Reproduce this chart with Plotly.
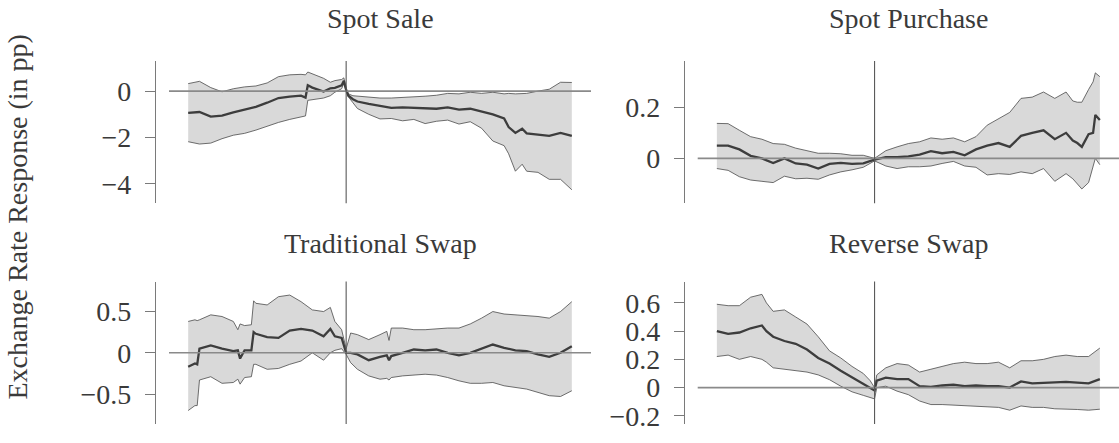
import plotly.graph_objects as go

# ---------------- data ----------------
titles = ["Spot Sale", "Spot Purchase", "Traditional Swap", "Reverse Swap"]
y_label = "Exchange Rate Response (in pp)"

spot_sale_x = [-70, -65, -60, -55, -50, -45, -40, -35, -30, -25, -20, -18, -17, -15, -10, -7, -5, -2, -1,
               0, 1, 3, 5, 10, 15, 20, 25, 30, 35, 40, 45, 50, 55, 60, 65, 70, 72, 75, 78, 80, 85, 90, 95, 100]
spot_sale_mean = [-0.94, -0.9, -1.1, -1.06, -0.92, -0.8, -0.68, -0.5, -0.3, -0.24, -0.2, -0.28, 0.25, 0.15, -0.02, 0.12, 0.14, 0.25, 0.44,
                  0.05, -0.2, -0.35, -0.45, -0.55, -0.65, -0.72, -0.7, -0.73, -0.73, -0.76, -0.7, -0.8, -0.76, -0.87, -1.0, -1.18, -1.55, -1.8, -1.62, -1.82, -1.88, -1.93, -1.8, -1.93]
spot_sale_lo = [-2.18, -2.28, -2.24, -2.05, -1.9, -1.82, -1.68, -1.5, -1.35, -1.22, -1.1, -1.07, -0.4, -0.38, -0.3, -0.2, -0.05, 0.1, 0.33,
                0.0, -0.25, -0.5, -0.75, -1.0, -1.2, -1.18, -1.28, -1.22, -1.4, -1.3, -1.25, -1.42, -1.32, -1.6, -2.15, -2.35, -2.7, -3.45, -3.15, -3.45, -3.5, -3.8, -3.8, -4.25]
spot_sale_hi = [0.32, 0.42, 0.15, -0.03, 0.1, 0.18, 0.22, 0.35, 0.62, 0.7, 0.72, 0.7, 0.82, 0.75, 0.55, 0.38, 0.45, 0.5, 0.57,
                0.1, -0.12, -0.2, -0.22, -0.25, -0.3, -0.3, -0.28, -0.25, -0.22, -0.18, -0.1, -0.12, -0.05, -0.1, -0.05, -0.12, -0.1, -0.12, -0.1, -0.1, 0.0, 0.08, 0.38, 0.37]

spot_purchase_x = [-70, -65, -60, -55, -50, -45, -40, -35, -30, -25, -20, -15, -10, -5, 0, 5, 10, 15, 20, 25,
                   30, 35, 40, 45, 50, 55, 60, 65, 70, 75, 80, 85, 88, 90, 92, 95, 97, 98, 100]
spot_purchase_mean = [0.05, 0.05, 0.035, 0.01, 0.0, -0.018, 0.0, -0.02, -0.025, -0.04, -0.022, -0.018, -0.022, -0.02, -0.005, 0.005, 0.005, 0.008, 0.015, 0.028,
                      0.02, 0.025, 0.012, 0.035, 0.05, 0.06, 0.045, 0.088, 0.1, 0.11, 0.075, 0.1, 0.07, 0.06, 0.045, 0.095, 0.1, 0.17, 0.15]
spot_purchase_lo = [-0.04, -0.047, -0.072, -0.085, -0.09, -0.095, -0.07, -0.08, -0.078, -0.082, -0.065, -0.053, -0.045, -0.035, -0.01, -0.03, -0.04, -0.033, -0.033, -0.03,
                    -0.02, -0.012, -0.03, -0.035, -0.065, -0.06, -0.063, -0.053, -0.06, -0.04, -0.09, -0.06, -0.08, -0.1, -0.12, -0.095, -0.03, 0.0, -0.025]
spot_purchase_hi = [0.137, 0.136, 0.11, 0.085, 0.075, 0.058, 0.055, 0.04, 0.03, 0.02, 0.02, 0.018, 0.012, 0.012, 0.0, 0.03, 0.045, 0.058, 0.065, 0.08,
                    0.075, 0.08, 0.065, 0.085, 0.13, 0.155, 0.18, 0.235, 0.24, 0.26, 0.235, 0.26, 0.225, 0.22, 0.22, 0.27, 0.3, 0.335, 0.32]

trad_swap_x = [-70, -67, -66, -65, -60, -55, -50, -48, -47, -45, -42, -41, -40, -35, -30, -25, -20, -15, -10, -7, -5, -2,
               0, 2, 5, 10, 15, 18, 19, 20, 25, 30, 35, 40, 45, 50, 55, 60, 65, 70, 75, 80, 85, 90, 95, 100]
trad_swap_mean = [-0.17, -0.13, -0.14, 0.05, 0.09, 0.05, 0.02, 0.03, -0.07, 0.03, 0.03, 0.25, 0.23, 0.19, 0.18, 0.27, 0.29, 0.27, 0.2, 0.29, 0.2, 0.18,
                  0.0, 0.0, -0.02, -0.09, -0.05, -0.03, -0.09, -0.04, 0.0, 0.04, 0.03, 0.04, 0.0, -0.03, 0.0, 0.05, 0.1, 0.06, 0.03, 0.02, -0.02, -0.05, 0.0, 0.08]
trad_swap_lo = [-0.7, -0.64, -0.64, -0.33, -0.29, -0.37, -0.36, -0.32, -0.38, -0.3, -0.29, -0.14, -0.14, -0.2, -0.19, -0.14, -0.1, 0.0, -0.09, 0.0, 0.03, 0.05,
                -0.02, -0.12, -0.2, -0.28, -0.32, -0.31, -0.33, -0.3, -0.28, -0.27, -0.26, -0.27, -0.3, -0.34, -0.37, -0.37, -0.36, -0.4, -0.42, -0.44, -0.48, -0.52, -0.53, -0.46]
trad_swap_hi = [0.38, 0.4, 0.39, 0.4, 0.46, 0.44, 0.38, 0.28, 0.35, 0.33, 0.34, 0.63, 0.6, 0.58, 0.68, 0.7, 0.62, 0.52, 0.5, 0.55, 0.38, 0.28,
                0.05, 0.24, 0.22, 0.16, 0.22, 0.26, 0.15, 0.3, 0.3, 0.28, 0.28, 0.29, 0.3, 0.3, 0.35, 0.42, 0.5, 0.47, 0.46, 0.45, 0.44, 0.42, 0.5, 0.62]

rev_swap_x = [-70, -65, -60, -55, -50, -48, -45, -40, -35, -30, -25, -20, -15, -10, -5, -2,
              0, 1, 5, 10, 15, 20, 25, 30, 35, 40, 45, 50, 55, 60, 65, 70, 75, 80, 85, 90, 95, 100]
rev_swap_mean = [0.40, 0.38, 0.39, 0.42, 0.44, 0.4, 0.36, 0.33, 0.31, 0.27, 0.21, 0.17, 0.12, 0.075, 0.03, 0.0,
                 -0.02, 0.05, 0.07, 0.06, 0.06, 0.01, 0.005, 0.015, 0.02, 0.01, 0.015, 0.01, 0.01, 0.0, 0.044, 0.03, 0.035, 0.04, 0.04, 0.035, 0.03, 0.06]
rev_swap_lo = [0.22, 0.23, 0.2, 0.22, 0.2, 0.18, 0.14, 0.13, 0.12, 0.11, 0.09, 0.056, 0.01, -0.03, -0.055, -0.07,
               -0.08, 0.0, 0.01, -0.025, -0.05, -0.095, -0.12, -0.12, -0.125, -0.13, -0.13, -0.135, -0.14, -0.16, -0.13, -0.14, -0.14, -0.15, -0.15, -0.155, -0.16, -0.153]
rev_swap_hi = [0.59, 0.58, 0.58, 0.64, 0.66, 0.6, 0.54, 0.55, 0.5, 0.45, 0.36, 0.26, 0.21, 0.15, 0.1, 0.05,
               0.0, 0.09, 0.14, 0.17, 0.16, 0.11, 0.13, 0.15, 0.17, 0.18, 0.17, 0.17, 0.18, 0.14, 0.19, 0.19, 0.2, 0.22, 0.23, 0.22, 0.22, 0.28]

yticks = [[-4, -2, 0], [0, 0.2], [-0.5, 0, 0.5], [-0.2, 0, 0.2, 0.4, 0.6]]
yticktext = [["−4", "−2", "0"], ["0", "0.2"], ["−0.5", "0", "0.5"], ["−0.2", "0", "0.2", "0.4", "0.6"]]
yranges = [[-4.83, 1.3], [-0.176, 0.382], [-0.862, 0.864], [-0.257, 0.751]]

# ---------------- layout geometry (pixels) ----------------
W, H = 1119, 443
FONT = "Liberation Serif"
FS = 28
TXT = "#3a3a3a"
AXC = "#7a7a7a"

col_x = [(169, 591), (697.7, 1119)]      # axes left/right
spine_x = [155, 684]
row_y = [(62, 207), (286.7, 431.7)]      # axes top/bottom
title_base = [27.5, 256]

panels = [
    (spot_sale_x, spot_sale_mean, spot_sale_lo, spot_sale_hi),
    (spot_purchase_x, spot_purchase_mean, spot_purchase_lo, spot_purchase_hi),
    (trad_swap_x, trad_swap_mean, trad_swap_lo, trad_swap_hi),
    (rev_swap_x, rev_swap_mean, rev_swap_lo, rev_swap_hi),
]

fig = go.Figure()
layout = dict(
    width=W, height=H, margin=dict(l=0, r=0, t=0, b=0),
    paper_bgcolor="white", plot_bgcolor="rgba(0,0,0,0)",
    showlegend=False, font=dict(family=FONT, size=FS, color=TXT),
)
shapes = []
annotations = []

for i, (xs, m, lo, hi) in enumerate(panels):
    r, c = divmod(i, 2)
    n = i + 1
    xa = "x" if n == 1 else f"x{n}"
    ya = "y" if n == 1 else f"y{n}"
    fig.add_trace(go.Scatter(x=xs, y=lo, mode="lines", line=dict(color="#4a4a4a", width=0.8),
                             xaxis=xa, yaxis=ya, hoverinfo="skip"))
    fig.add_trace(go.Scatter(x=xs, y=hi, mode="lines", line=dict(color="#4a4a4a", width=0.8),
                             fill="tonexty", fillcolor="#d9d9d9", xaxis=xa, yaxis=ya, hoverinfo="skip"))
    fig.add_trace(go.Scatter(x=xs, y=m, mode="lines", line=dict(color="#3d3d3d", width=2.3),
                             xaxis=xa, yaxis=ya))
    x0, x1 = col_x[c]
    t, b = row_y[r]
    layout["xaxis" if n == 1 else f"xaxis{n}"] = dict(
        domain=[x0 / W, min(x1 / W, 1.0)], range=[-78.5, 108.5], visible=False,
        anchor=ya, fixedrange=True)
    layout["yaxis" if n == 1 else f"yaxis{n}"] = dict(
        domain=[1 - b / H, 1 - t / H], range=yranges[i], anchor="free", position=spine_x[c] / W,
        showline=True, linecolor=AXC, linewidth=1.1, ticks="outside", ticklen=10, tickwidth=1.1,
        tickcolor=AXC, tickvals=yticks[i], ticktext=yticktext[i], showgrid=False, zeroline=False,
        tickfont=dict(family=FONT, size=FS, color=TXT), ticklabelstandoff=8, fixedrange=True)
    shapes.append(dict(type="line", xref=f"{xa} domain", yref=ya, x0=0, x1=1, y0=0, y1=0,
                       line=dict(color="#8a8a8a", width=1.6), layer="above"))
    shapes.append(dict(type="line", xref=xa, yref=f"{ya} domain", x0=0, x1=0, y0=0, y1=1,
                       line=dict(color="#5a5a5a", width=1.1), layer="above"))
    annotations.append(dict(text=titles[i], xref="paper", yref="paper",
                            x=(x0 + x1) / 2 / W, y=1 - (title_base[r] + 9.5) / H,
                            xanchor="center", yanchor="bottom", showarrow=False,
                            font=dict(family=FONT, size=FS, color=TXT)))

annotations.append(dict(text=y_label, xref="paper", yref="paper", x=17 / W, y=1 - 221.5 / H,
                        xanchor="center", yanchor="middle", textangle=-90, showarrow=False,
                        font=dict(family=FONT, size=FS, color=TXT)))

layout["shapes"] = shapes
layout["annotations"] = annotations
fig.update_layout(**layout)
fig.write_html("out.html", config={"displayModeBar": False},
               post_script="document.body.style.margin='0px';document.body.style.padding='0px';")
